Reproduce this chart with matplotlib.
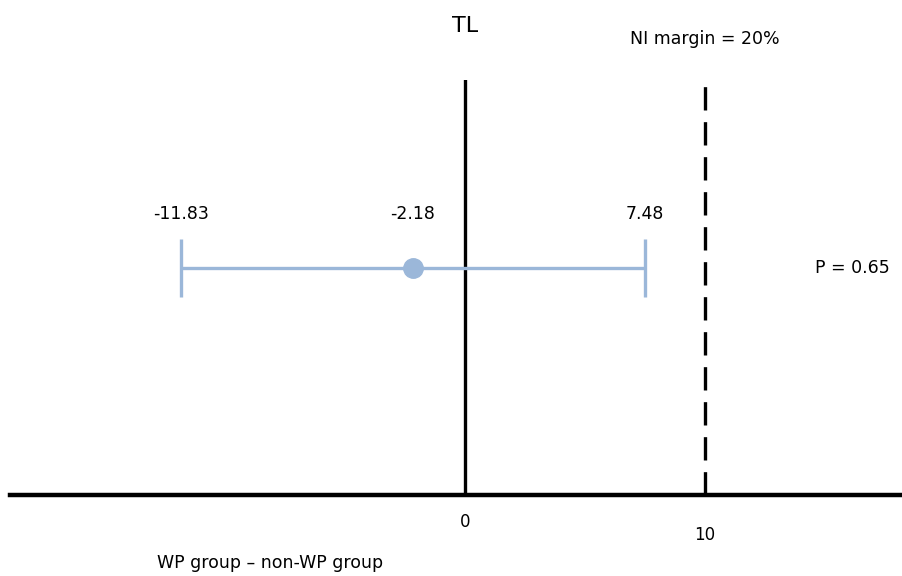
import matplotlib.pyplot as plt
import matplotlib.transforms as mtransforms

# difference in TL, WP group - non-WP group
estimate = -2.18
ci_low = -11.83
ci_high = 7.48
ni_margin = 10
tick_values = [0, 10]
tick_labels = ["0", "10"]
p_text = "P = 0.65"

blue = "#9bb7d9"

fig = plt.figure(figsize=(9.02, 5.76), dpi=100)
ax = fig.add_axes([10 / 902, 1 - 495 / 576, 890 / 902, 415 / 576])
ax.set_xlim((10 - 465) / 24, (900 - 465) / 24)
ax.set_ylim(0, 1)

row = 0.547
ax.errorbar([estimate], [row], xerr=[[estimate - ci_low], [ci_high - estimate]],
            fmt="o", color=blue, ms=14, elinewidth=2.4, capsize=21, capthick=2.4, zorder=3)

ax.axvline(0, color="black", lw=2.4, zorder=2)
ax.axvline(ni_margin, color="black", lw=2.4, ls=(0, (7, 3.5)), zorder=2)

for v in [ci_low, estimate, ci_high]:
    ax.text(v, row + 0.13, f"{v:.2f}", ha="center", va="center", fontsize=12.5)

ax.text(14.6, row, p_text, ha="left", va="center", fontsize=12.5)
ax.text(0, 1.13, "TL", ha="center", va="center", fontsize=16)
ax.text(ni_margin, 1.1, "NI margin = 20%", ha="center", va="center", fontsize=12.5)

trans = mtransforms.blended_transform_factory(ax.transData, fig.transFigure)
ax.text(tick_values[0], 1 - 522 / 576, tick_labels[0], ha="center", va="center", fontsize=12, transform=trans)
ax.text(tick_values[1], 1 - 535 / 576, tick_labels[1], ha="center", va="center", fontsize=12, transform=trans)
ax.text(270 / 902, 1 - 563 / 576, "WP group \u2013 non-WP group", ha="center", va="center",
        fontsize=12.5, transform=fig.transFigure)

for s in ["top", "left", "right"]:
    ax.spines[s].set_visible(False)
ax.spines["bottom"].set_linewidth(3.2)
ax.set_xticks([])
ax.set_yticks([])

fig.savefig("out.png", dpi=100)
